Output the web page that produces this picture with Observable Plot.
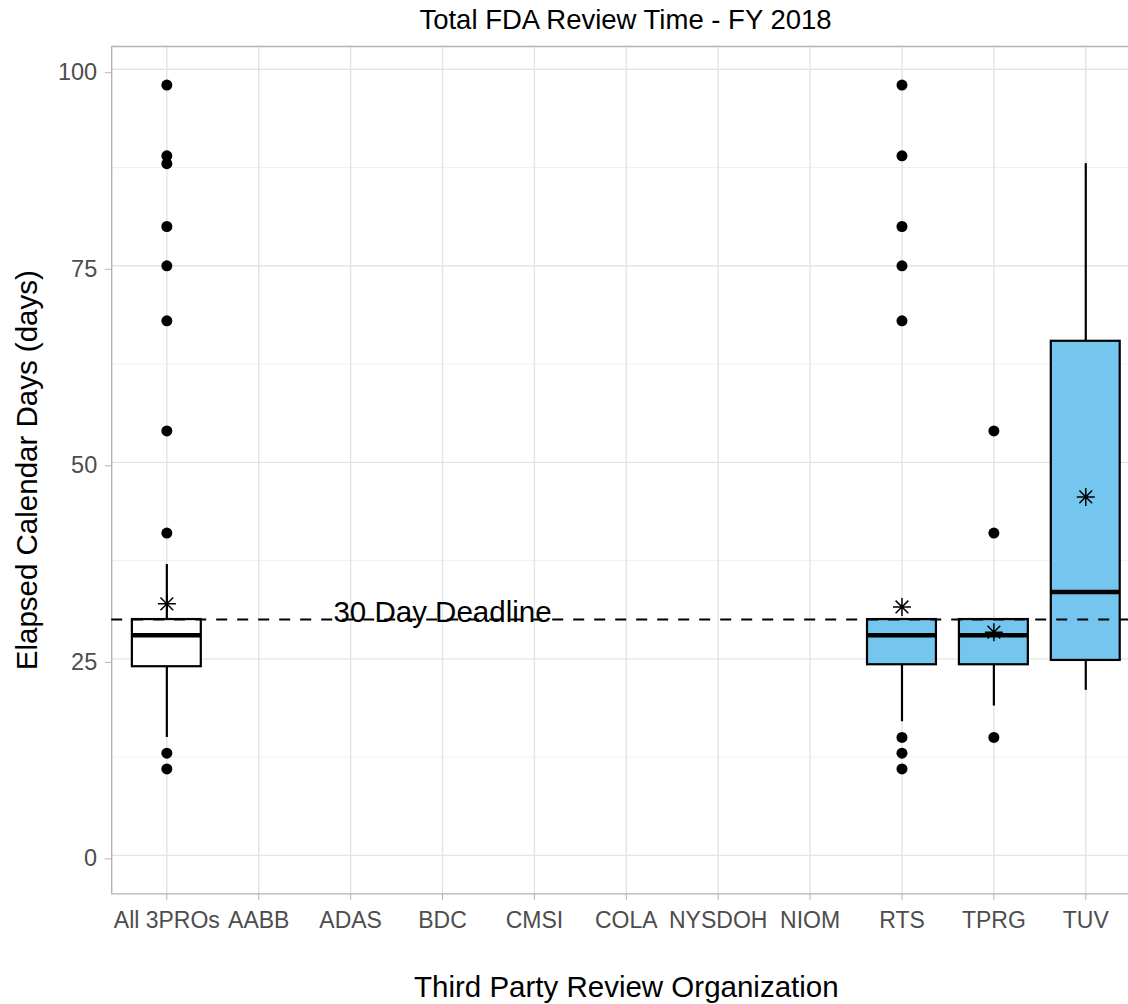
<!DOCTYPE html>
<html>
<head>
<meta charset="utf-8">
<script src="https://cdn.jsdelivr.net/npm/d3@7"></script>
<script src="https://cdn.jsdelivr.net/npm/@observablehq/plot@0.6"></script>
<style>
  body { margin: 0; background: #fff; font-family: "Liberation Sans", Arial, sans-serif; }
  #title { width: 1128px; height: 40px; line-height: 40px; font-size: 27.5px; text-align: center;
           padding-left: 123px; box-sizing: border-box; color: #000; white-space: nowrap; }
  #chart svg { display: block; }
</style>
</head>
<body>
<div id="title"></div>
<div id="chart"></div>
<script>
// ---- data ----
const chartTitle = "Total FDA Review Time - FY 2018";
const xLabel = "Third Party Review Organization";
const yLabel = "Elapsed Calendar Days (days)";
const categories = ["All 3PROs", "AABB", "ADAS", "BDC", "CMSI", "COLA", "NYSDOH", "NIOM", "RTS", "TPRG", "TUV"];

const boxGroups   = ["All 3PROs", "RTS", "TPRG", "TUV"];
const whiskerLow  = [15, 17, 19, 21];
const q1          = [24, 24.25, 24.25, 24.8];
const medians     = [28, 28, 28, 33.5];
const q3          = [30, 30, 30, 65.4];
const whiskerHigh = [37, 30, 30, 88];
const means       = [32, 31.6, 28.4, 45.6];

const outlierGroups = [
  "All 3PROs", "All 3PROs", "All 3PROs", "All 3PROs", "All 3PROs", "All 3PROs", "All 3PROs", "All 3PROs", "All 3PROs", "All 3PROs",
  "RTS", "RTS", "RTS", "RTS", "RTS", "RTS", "RTS", "RTS",
  "TPRG", "TPRG", "TPRG"
];
const outlierValues = [
  98, 89, 88, 80, 75, 68, 54, 41, 13, 11,
  98, 89, 80, 75, 68, 15, 13, 11,
  54, 41, 15
];

const yTicks = [0, 25, 50, 75, 100];
const yMinorTicks = [12.5, 37.5, 62.5, 87.5];
const deadline = 30;
const deadlineLabel = "30 Day Deadline";
const deadlineLabelAt = "BDC";

// ---- build tables ----
const pos = g => categories.indexOf(g) + 1;
const positions = categories.map(pos);
const boxes = boxGroups.map((g, i) => ({
  g, p: pos(g), lo: whiskerLow[i], q1: q1[i], med: medians[i], q3: q3[i], hi: whiskerHigh[i], mean: means[i]
}));
const outliers = outlierGroups.map((g, i) => ({ p: pos(g), v: outlierValues[i] }));
const halfW = 0.375;

// ggplot-style 8-armed asterisk (shape 8)
const asterisk = {
  draw(ctx, size) {
    const r = Math.sqrt(size / Math.PI), d = r / Math.SQRT2;
    ctx.moveTo(-r, 0); ctx.lineTo(r, 0);
    ctx.moveTo(0, -r); ctx.lineTo(0, r);
    ctx.moveTo(-d, -d); ctx.lineTo(d, d);
    ctx.moveTo(-d, d); ctx.lineTo(d, -d);
  }
};

document.getElementById("title").textContent = chartTitle;

const gridColor = "#e4e4e4";
const borderColor = "#b3b3b3";
const blue = "#74C6EF";

const chart = Plot.plot({
  width: 1128,
  height: 964,
  marginTop: 6,
  marginBottom: 110.6,
  marginLeft: 111.2,
  marginRight: 0,
  x: { type: "linear", domain: [0.4, categories.length + 0.6], range: [111.2, 1140.4], axis: null },
  y: { domain: [-4.9, 102.9], axis: null },
  color: { type: "identity" },
  style: { fontFamily: "'Liberation Sans', Arial, sans-serif", background: "white", overflow: "hidden" },
  marks: [
    // grid
    Plot.ruleY(yMinorTicks, { stroke: "#eeeeee", strokeWidth: 0.9 }),
    Plot.ruleY(yTicks, { stroke: gridColor, strokeWidth: 1.4 }),
    Plot.ruleX(positions, { stroke: gridColor, strokeWidth: 1.4 }),
    // panel border (left, top, bottom)
    Plot.ruleX([0.4], { stroke: borderColor, strokeWidth: 1.4 }),
    Plot.ruleY([-4.9, 102.9], { stroke: borderColor, strokeWidth: 1.4 }),
    // axes
    Plot.axisY(yTicks, {
      tickSize: 6.5, tickPadding: 8, stroke: borderColor, fill: "#4d4d4d",
      fontSize: 23.5, dy: 3.5, label: null, tickFormat: d => String(d)
    }),
    Plot.axisX(positions, {
      tickSize: 6.5, tickPadding: 11, stroke: borderColor, fill: "#4d4d4d",
      fontSize: 23, label: null, tickFormat: i => categories[i - 1]
    }),
    // whiskers
    Plot.ruleX(boxes, { x: "p", y1: "lo", y2: "q1", stroke: "black", strokeWidth: 2.2 }),
    Plot.ruleX(boxes, { x: "p", y1: "q3", y2: "hi", stroke: "black", strokeWidth: 2.2 }),
    // boxes
    Plot.rect(boxes, {
      x1: d => d.p - halfW, x2: d => d.p + halfW, y1: "q1", y2: "q3",
      fill: d => d.g === "All 3PROs" ? "white" : blue, stroke: "black", strokeWidth: 2.2
    }),
    // medians
    Plot.ruleY(boxes, { y: "med", x1: d => d.p - halfW, x2: d => d.p + halfW, stroke: "black", strokeWidth: 4.5 }),
    // outliers
    Plot.dot(outliers, { x: "p", y: "v", r: 5.5, fill: "black", stroke: null }),
    // means
    Plot.dot(boxes, { x: "p", y: "mean", symbol: asterisk, r: 9, fill: "none", stroke: "black", strokeWidth: 1.5 }),
    // deadline
    Plot.ruleY([deadline], { stroke: "black", strokeWidth: 2, strokeDasharray: "11,10" }),
    Plot.text([deadlineLabel], { x: pos(deadlineLabelAt), y: deadline, dy: -7, text: d => d, fontSize: 29.5, fill: "black" }),
    // axis titles
    Plot.text([xLabel], { x: (1 + categories.length) / 2, frameAnchor: "bottom", lineAnchor: "middle", textAnchor: "middle",
      dy: 93.3, text: d => d, fontSize: 29.5, fill: "black" }),
    Plot.text([yLabel], { frameAnchor: "left", lineAnchor: "middle", textAnchor: "middle",
      dx: -84, rotate: -90, text: d => d, fontSize: 29.5, fill: "black" })
  ]
});
document.getElementById("chart").appendChild(chart);
</script>
</body>
</html>
